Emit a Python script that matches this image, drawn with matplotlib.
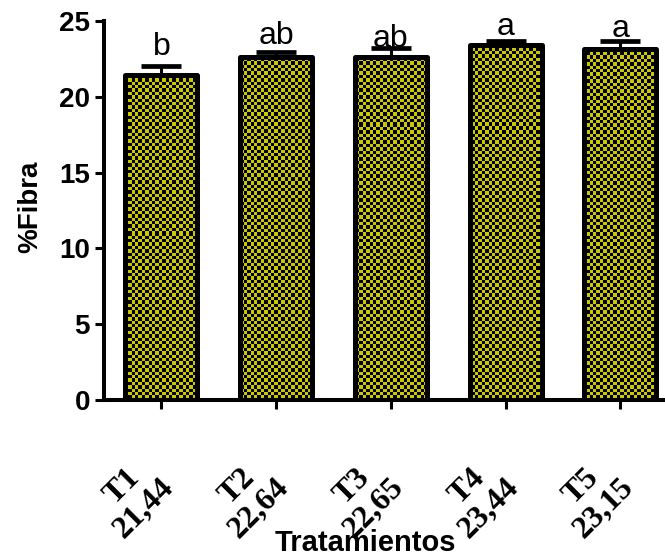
import numpy as np
import matplotlib
matplotlib.use('Agg')
import matplotlib.pyplot as plt
from matplotlib.transforms import ScaledTranslation

treatments = ['T1', 'T2', 'T3', 'T4', 'T5']
means = [21.44, 22.64, 22.65, 23.44, 23.15]
mean_labels = ['21,44', '22,64', '22,65', '23,44', '23,15']
errors = [0.56, 0.32, 0.54, 0.24, 0.53]
letters = ['b', 'ab', 'ab', 'a', 'a']
letter_y = [22.76, 23.48, 23.28, 24.08, 23.94]
yticks = [0, 5, 10, 15, 20, 25]

fig = plt.figure(figsize=(6.65, 5.58), dpi=100)
ax_rect = [0.1564, 0.2832, 0.8628, 0.6792]
ax = fig.add_axes(ax_rect)
x = np.arange(len(treatments))
xlim = (-0.5, 4.5)
ylim = (0, 25)

yellow = '#c8c400'
width = 0.627
faces = ax.bar(x, means, width=width, color=yellow, edgecolor='none', zorder=2)

# checkerboard texture clipped to each bar
W = int(round(ax_rect[2] * 665))
H = int(round(ax_rect[3] * 558))
yy, xx = np.mgrid[0:H, 0:W]
s = 3.4
chk = ((np.floor(xx / s) + np.floor(yy / s)) % 2).astype(bool)
rgba = np.zeros((H, W, 4))
rgba[..., 0] = 204 / 255
rgba[..., 1] = 200 / 255
rgba[..., 2] = 0
rgba[..., 3] = 1
rgba[chk, 0:3] = 0
for b in faces:
    im = ax.imshow(rgba, extent=(xlim[0], xlim[1], ylim[0], ylim[1]), aspect='auto',
                   interpolation='nearest', zorder=2.5)
    im.set_clip_path(b)

ax.errorbar(x, means, yerr=[np.zeros(len(means)), errors], fmt='none', ecolor='black',
            elinewidth=2.2, capsize=14.4, capthick=3.4, zorder=2.8)
ax.bar(x, means, width=width, facecolor='none', edgecolor='black', linewidth=3.6,
       joinstyle='round', zorder=3)

for i, (lt, ly) in enumerate(zip(letters, letter_y)):
    ax.text(x[i], ly, lt, ha='center', va='baseline', fontsize=23,
            family='Liberation Sans', clip_on=False, zorder=5)

ax.set_xlim(*xlim)
ax.set_ylim(*ylim)
ax.set_yticks(yticks)
ax.set_yticklabels([str(v) for v in yticks], fontsize=20, fontweight='bold',
                   family='Liberation Sans')
ax.set_xticks(x)
ax.set_xticklabels([f'{t}\n{m}' for t, m in zip(treatments, mean_labels)],
                   fontsize=23, fontweight='bold', family='Liberation Serif',
                   rotation=45, ha='center', va='top', linespacing=1.05)
for sp in ['top', 'right']:
    ax.spines[sp].set_visible(False)
for sp in ['left', 'bottom']:
    ax.spines[sp].set_linewidth(2.9)
ax.tick_params(axis='y', direction='out', length=6.5, width=2.2, pad=3.5)
ax.tick_params(axis='x', direction='out', length=6.5, width=2.2, pad=30)
off = ScaledTranslation(-0.28, 0, fig.dpi_scale_trans)
for lab in ax.get_xticklabels():
    lab.set_transform(lab.get_transform() + off)

ax.set_ylabel('%Fibra', fontsize=20, fontweight='bold', family='Liberation Sans')
ax.yaxis.set_label_coords(-0.129, 0.509)
ax.yaxis.label.set_va('center')
ax.set_xlabel('Tratamientos', fontsize=21, fontweight='bold', family='Liberation Sans')
ax.xaxis.set_label_coords(0.455, -0.378)
ax.xaxis.label.set_va('center')

fig.savefig('out.png', dpi=100)
